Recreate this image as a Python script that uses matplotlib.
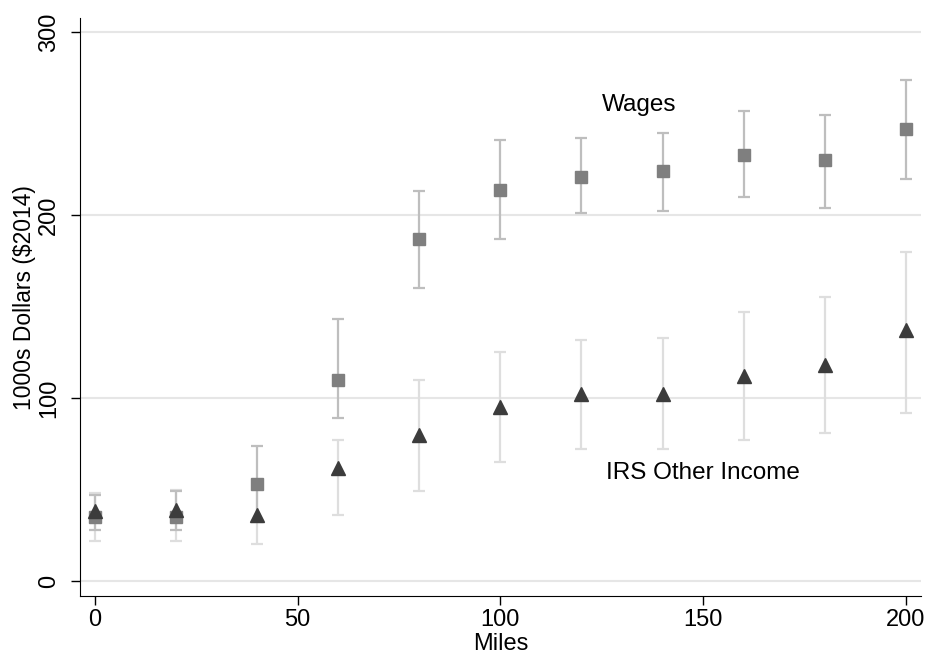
import matplotlib
matplotlib.use('AGG')
from matplotlib import pyplot as plt

plt.rcParams['font.family'] = ['Liberation Sans', 'DejaVu Sans']

miles = [0, 20, 40, 60, 80, 100, 120, 140, 160, 180, 200]

wages = [35, 35, 53, 110, 187, 214, 221, 224, 233, 230, 247]
wages_lo = [28, 28, 32, 89, 160, 187, 201, 202, 210, 204, 220]
wages_hi = [47, 49, 74, 143, 213, 241, 242, 245, 257, 255, 274]

irs = [38, 39, 36, 62, 80, 95, 102, 102, 112, 118, 137]
irs_lo = [22, 22, 20, 36, 49, 65, 72, 72, 77, 81, 92]
irs_hi = [48, 50, 52, 77, 110, 125, 132, 133, 147, 155, 180]

fig = plt.figure(figsize=(9.28, 6.58), dpi=100)
ax = fig.add_axes([0.0862, 0.0942, 0.906, 0.878])

for y in [0, 100, 200, 300]:
    ax.axhline(y, color='#e6e6e6', lw=1.5, zorder=0)

ax.errorbar(miles, irs, yerr=[[a - b for a, b in zip(irs, irs_lo)], [b - a for a, b in zip(irs, irs_hi)]],
            fmt='none', ecolor='#dedede', elinewidth=1.6, capsize=4.3, capthick=1.6, zorder=1)
ax.errorbar(miles, wages, yerr=[[a - b for a, b in zip(wages, wages_lo)], [b - a for a, b in zip(wages, wages_hi)]],
            fmt='none', ecolor='#bebebe', elinewidth=1.6, capsize=4.3, capthick=1.6, zorder=2)
ax.plot(miles, wages, 's', color='#7f7f7f', ms=8, zorder=3)
ax.plot(miles, irs, '^', color='#3c3c3c', ms=10, zorder=4)

ax.text(125, 260, 'Wages', fontsize=17.5, va='center', ha='left')
ax.text(126, 59, 'IRS Other Income', fontsize=17.5, va='center', ha='left')

ax.set_xlim(-3.7, 203.7)
ax.set_ylim(-8.2, 307.6)
ax.set_xticks([0, 50, 100, 150, 200])
ax.set_yticks([0, 100, 200, 300])
ax.set_yticklabels(['0', '100', '200', '300'], rotation=90, va='center')
ax.tick_params(labelsize=17, length=6.5, width=1)
ax.tick_params(axis='y', pad=8)
ax.tick_params(axis='x', pad=3)
ax.spines['top'].set_visible(False)
ax.spines['right'].set_visible(False)
ax.set_xlabel('Miles', fontsize=17, labelpad=1)
ax.set_ylabel('1000s Dollars ($2014)', fontsize=16.5)
ax.yaxis.set_label_coords(-0.052, 0.516)

plt.savefig('out.png', dpi=100)
